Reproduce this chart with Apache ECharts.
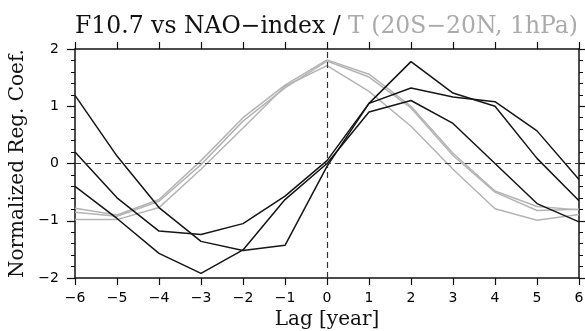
<!DOCTYPE html>
<html>
<head>
<meta charset="utf-8">
<script src="https://cdn.jsdelivr.net/npm/echarts@6/dist/echarts.min.js"></script>
<style>
  html, body { margin: 0; padding: 0; background: #fff; }
  #chart { width: 585px; height: 331px; }
</style>
</head>
<body>
<div id="chart"></div>
<script>
// lag in years
const lags = [-6, -5, -4, -3, -2, -1, 0, 1, 2, 3, 4, 5, 6];

// F10.7 vs NAO-index (black)
const naoA = [1.19, 0.13, -0.77, -1.36, -1.52, -1.43, -0.05, 1.05, 1.78, 1.23, 1.00, 0.09, -0.65];
const naoB = [0.20, -0.60, -1.18, -1.24, -1.05, -0.57, 0.05, 1.05, 1.32, 1.16, 1.08, 0.57, -0.28];
const naoC = [-0.40, -0.96, -1.57, -1.92, -1.51, -0.63, 0.00, 0.90, 1.10, 0.70, 0.00, -0.70, -1.02];

// T (20S-20N, 1hPa) (gray)
const tempA = [-0.78, -0.90, -0.63, 0.05, 0.80, 1.37, 1.81, 1.56, 1.00, 0.18, -0.48, -0.75, -0.81];
const tempB = [-0.85, -0.92, -0.66, -0.02, 0.74, 1.32, 1.79, 1.51, 0.97, 0.14, -0.50, -0.82, -0.80];
const tempC = [-0.98, -0.98, -0.77, -0.10, 0.62, 1.35, 1.71, 1.26, 0.65, -0.10, -0.79, -0.99, -0.89];

const pairs = vals => lags.map((l, i) => [l, vals[i]]);

const chart = echarts.init(document.getElementById('chart'));

const lineSeries = (vals, color, width) => ({
    type: 'line',
    data: pairs(vals),
    showSymbol: false,
    symbol: 'none',
    animation: false,
    lineStyle: { color: color, width: width },
    z: 3,
});

const tickFont = { fontFamily: 'DejaVu Sans', fontSize: 14, color: '#000' };
const minus = v => String(v).replace('-', '\u2212');
const frameLine = { show: true, onZero: false, lineStyle: { color: '#111', width: 1.5 } };

chart.setOption({
    animation: false,
    title: {
        left: 70,
        top: 10,
        text: '{a|F10.7 vs NAO\u2212index / }{b|T (20S\u221220N, 1hPa)}',
        textStyle: {
            fontWeight: 'normal',
            rich: {
                a: { fontFamily: 'DejaVu Serif', fontWeight: 'normal', fontSize: 23.5, color: '#111' },
                b: { fontFamily: 'DejaVu Serif', fontWeight: 'normal', fontSize: 23.5, color: '#aaa' },
            },
        },
    },
    grid: { left: 75, right: 6, top: 49, bottom: 53, outerBoundsMode: 'none' },
    xAxis: [
        {
            type: 'value',
            min: -6,
            max: 6,
            interval: 1,
            position: 'bottom',
            name: 'Lag [year]',
            nameLocation: 'middle',
            nameGap: 29,
            nameTextStyle: { fontFamily: 'DejaVu Serif', fontSize: 20, color: '#111' },
            axisLine: frameLine,
            axisTick: { length: 7, lineStyle: { color: '#111', width: 1.2 } },
            axisLabel: Object.assign({ margin: 13, formatter: minus }, tickFont),
            splitLine: { show: false },
        },
        {
            type: 'value',
            min: -6,
            max: 6,
            interval: 1,
            position: 'top',
            axisLine: frameLine,
            axisTick: { length: 7, lineStyle: { color: '#111', width: 1.2 } },
            axisLabel: { show: false },
            splitLine: { show: false },
        },
    ],
    yAxis: [
        {
            type: 'value',
            min: -2,
            max: 2,
            interval: 1,
            position: 'left',
            name: 'Normalized Reg. Coef.',
            nameLocation: 'middle',
            nameGap: 44,
            nameTextStyle: { fontFamily: 'DejaVu Serif', fontSize: 20, color: '#111' },
            axisLine: frameLine,
            axisTick: { show: true, length: 8, lineStyle: { color: '#111', width: 1.2 } },
            minorTick: { show: true, splitNumber: 5, length: 4, lineStyle: { color: '#111', width: 1 } },
            axisLabel: Object.assign({ margin: 16, formatter: minus }, tickFont),
            splitLine: { show: false },
        },
        {
            type: 'value',
            min: -2,
            max: 2,
            interval: 1,
            position: 'right',
            axisLine: frameLine,
            axisTick: { show: true, length: 8, lineStyle: { color: '#111', width: 1.2 } },
            minorTick: { show: true, splitNumber: 5, length: 4, lineStyle: { color: '#111', width: 1 } },
            axisLabel: { show: false },
            splitLine: { show: false },
        },
    ],
    series: [
        Object.assign(lineSeries(tempA, '#b4b4b4', 1.5), {
            markLine: {
                silent: true,
                symbol: 'none',
                label: { show: false },
                lineStyle: { color: '#333', type: [6, 4], width: 1.2 },
                data: [{ yAxis: 0 }, { xAxis: 0 }],
            },
        }),
        lineSeries(tempB, '#b4b4b4', 1.5),
        lineSeries(tempC, '#b4b4b4', 1.5),
        lineSeries(naoA, '#151515', 1.5),
        lineSeries(naoB, '#151515', 1.5),
        lineSeries(naoC, '#151515', 1.5),
    ],
});
</script>
</body>
</html>
